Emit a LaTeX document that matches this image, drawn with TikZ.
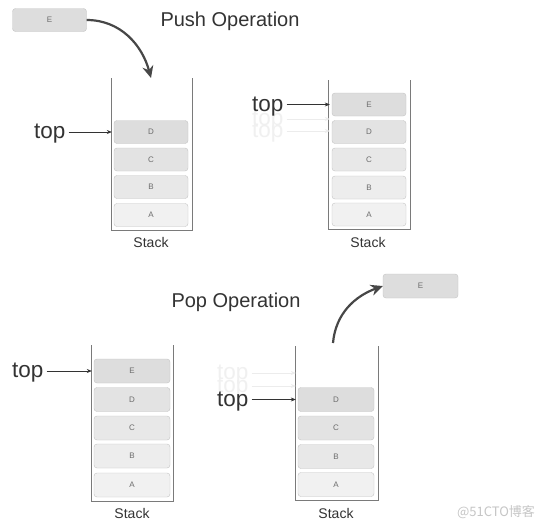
\documentclass[tikz,border=0pt]{standalone}
\usepackage{fontspec}
\setmainfont{Liberation Sans}
\newfontfamily\cjk{Noto Sans CJK SC}
\usetikzlibrary{arrows.meta}
\definecolor{ink}{HTML}{333333}
\definecolor{edge}{HTML}{C4C4C4}
\definecolor{wall}{HTML}{7A7A7A}
\begin{document}
\begin{tikzpicture}[x=1pt,y=-1pt,
  item/.style={draw=edge, rounded corners=3pt, minimum width=74pt, minimum height=23pt,
    inner sep=0pt, font=\fontsize{8}{9}\selectfont, text=gray!85!black},
  f1/.style={fill=gray!27}, f2/.style={fill=gray!22}, f3/.style={fill=gray!18},
  f4/.style={fill=gray!14}, f5/.style={fill=gray!11},
  wallline/.style={draw=wall, line width=0.9pt},
  toplabel/.style={font=\fontsize{22.5}{24}\selectfont, text=ink, inner sep=0pt, anchor=base east},
  ghost/.style={font=\fontsize{22.5}{24}\selectfont, text=gray!12, inner sep=0pt, anchor=base east},
  ptr/.style={draw=ink, line width=0.6pt, -{Stealth[length=5pt,width=4pt]}, shorten >=2pt, shorten <=3pt},
  gptr/.style={draw=gray!15, line width=0.6pt, -{Stealth[length=5pt,width=4pt]}, shorten >=2pt, shorten <=3pt},
  stacklabel/.style={font=\fontsize{14}{16}\selectfont, text=ink},
  title/.style={font=\fontsize{20}{22}\selectfont, text=ink},
  bigarrow/.style={draw=ink!90, line width=2.2pt, -{Stealth[length=12pt,width=11pt]}}
]
\useasboundingbox[fill=white] (0,0) rectangle (549,528);

% ---------- Push ----------
\node[title] (pushT) at (230,21) {Push Operation};
\node[item,f1] (Enew) at (49.5,20) {E};

% stack 1
\draw[wallline] (111,78) -- (111,230) -- (192,230) -- (192,78);
\node[item,f1] (D1) at (151,132) {D};
\node[item,f2] (C1) at (151,159.5) {C};
\node[item,f3] (B1) at (151,187) {B};
\node[item,f5] (A1) at (151,215) {A};
\node[stacklabel] (S1) at (151,242) {Stack};
\node[toplabel] (t1) at (65.5,138.5) {top};
\draw[ptr] ([yshift=6.5pt]t1.base east) -- (D1.west);
\coordinate (in1) at (151,78);
\draw[bigarrow] (Enew.east) to[out=0,in=105] (in1);

% stack 2
\draw[wallline] (328,80) -- (328,229) -- (410,229) -- (410,80);
\node[item,f1] (E2) at (369,104.5) {E};
\node[item,f2] (D2) at (369,132) {D};
\node[item,f3] (C2) at (369,159.5) {C};
\node[item,f4] (B2) at (369,187.5) {B};
\node[item,f5] (A2) at (369,214.5) {A};
\node[stacklabel] (S2) at (368,242) {Stack};
\node[ghost] (g2b) at (283.5,137.5) {top};
\node[ghost] (g2a) at (283.5,125.5) {top};
\node[toplabel] (t2) at (283.5,111) {top};
\draw[gptr] ([yshift=6.5pt]g2a.base east) -- ([yshift=6.5pt]g2a.base east -| E2.west);
\draw[gptr] ([yshift=6.5pt]g2b.base east) -- ([yshift=6.5pt]g2b.base east -| E2.west);
\draw[ptr] ([yshift=6.5pt]t2.base east) -- (E2.west);

% ---------- Pop ----------
\node[title] (popT) at (236,302) {Pop Operation};

% stack 3
\draw[wallline] (91,345) -- (91,501) -- (173,501) -- (173,345);
\node[item,f1,minimum width=76pt,minimum height=24pt] (E3) at (132,371) {E};
\node[item,f2,minimum width=76pt,minimum height=24pt] (D3) at (132,399.5) {D};
\node[item,f3,minimum width=76pt,minimum height=24pt] (C3) at (132,428) {C};
\node[item,f4,minimum width=76pt,minimum height=24pt] (B3) at (132,456) {B};
\node[item,f5,minimum width=76pt,minimum height=24pt] (A3) at (132,485) {A};
\node[stacklabel] (S3) at (132,513) {Stack};
\node[toplabel] (t3) at (43.5,377.5) {top};
\draw[ptr] ([yshift=6.5pt]t3.base east) -- (E3.west);

% stack 4
\draw[wallline] (295,346) -- (295,500) -- (378,500) -- (378,346);
\node[item,f1,minimum width=76pt,minimum height=24pt] (D4) at (336,399.5) {D};
\node[item,f2,minimum width=76pt,minimum height=24pt] (C4) at (336,428) {C};
\node[item,f3,minimum width=76pt,minimum height=24pt] (B4) at (336,456.5) {B};
\node[item,f5,minimum width=76pt,minimum height=24pt] (A4) at (336,484.5) {A};
\node[stacklabel] (S4) at (336,513) {Stack};
\node[ghost] (g4a) at (248.5,379.5) {top};
\node[ghost] (g4b) at (248.5,392.5) {top};
\node[toplabel] (t4) at (248.5,406) {top};
\draw[gptr] ([yshift=6.5pt]g4a.base east) -- ([yshift=6.5pt]g4a.base east -| D4.west);
\draw[gptr] ([yshift=6.5pt]g4b.base east) -- ([yshift=6.5pt]g4b.base east -| D4.west);
\draw[ptr] ([yshift=6.5pt]t4.base east) -- (D4.west);

\node[item,f1,minimum width=75pt,minimum height=24pt] (Eout) at (420.5,286) {E};
\coordinate (out4) at (333,343);
\draw[bigarrow] (out4) to[out=85,in=200] (Eout.west);

\node[font=\cjk\fontsize{13}{15}\selectfont, text=gray!45] (wm) at (496,512) {@51CTO博客};
\end{tikzpicture}
\end{document}
